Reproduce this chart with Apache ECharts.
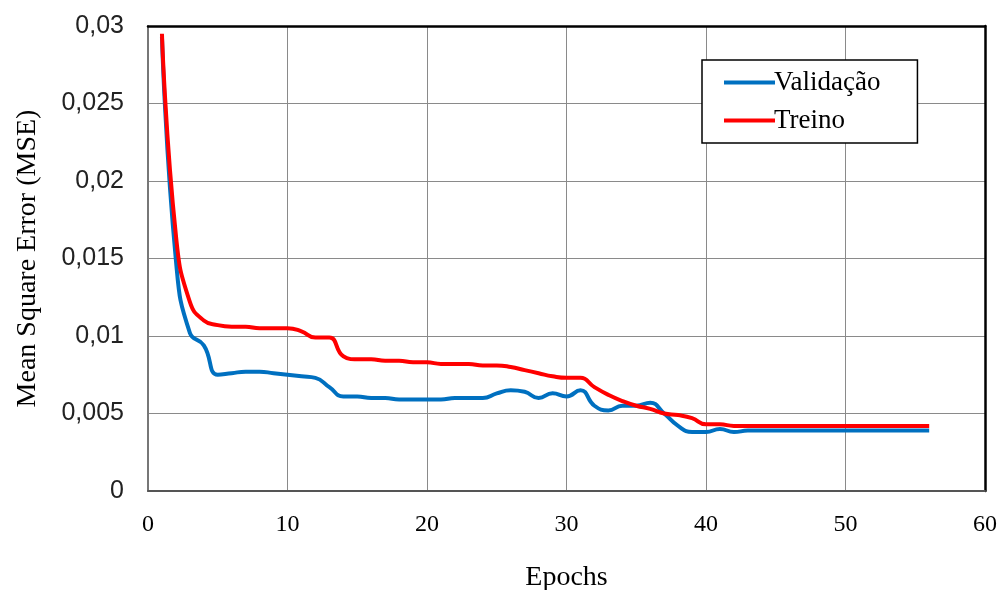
<!DOCTYPE html>
<html>
<head>
<meta charset="utf-8">
<script src="https://cdn.jsdelivr.net/npm/echarts@6/dist/echarts.min.js"></script>
<style>html,body{margin:0;padding:0;background:#fff}#c{width:1003px;height:590px}</style>
</head>
<body>
<div id="c"></div>
<script>
const epochs = [1,2,3,4,5,6,7,8,9,10,11,12,13,14,15,16,17,18,19,20,21,22,23,24,25,26,27,28,29,30,31,32,33,34,35,36,37,38,39,40,41,42,43,44,45,46,47,48,49,50,51,52,53,54,55,56];
const validacao = [0.0293,0.0149,0.0102,0.0094,0.0075,0.0076,0.0077,0.0077,0.0076,0.0075,0.0074,0.0073,0.0067,0.0061,0.0061,0.0060,0.0060,0.0059,0.0059,0.0059,0.0059,0.0060,0.0060,0.0060,0.0063,0.0065,0.0064,0.0060,0.0063,0.0061,0.0065,0.0055,0.0052,0.0055,0.0055,0.0057,0.0050,0.0042,0.0038,0.0038,0.0040,0.0038,0.0039,0.0039,0.0039,0.0039,0.0039,0.0039,0.0039,0.0039,0.0039,0.0039,0.0039,0.0039,0.0039,0.0039];
const treino = [0.0295,0.0165,0.0122,0.0110,0.0107,0.0106,0.0106,0.0105,0.0105,0.0105,0.0103,0.0099,0.0099,0.0087,0.0085,0.0085,0.0084,0.0084,0.0083,0.0083,0.0082,0.0082,0.0082,0.0081,0.0081,0.0080,0.0078,0.0076,0.0074,0.0073,0.0073,0.0067,0.0062,0.0058,0.0055,0.0053,0.0050,0.0049,0.0047,0.0043,0.0043,0.0042,0.0042,0.0042,0.0042,0.0042,0.0042,0.0042,0.0042,0.0042,0.0042,0.0042,0.0042,0.0042,0.0042,0.0042];
const xTicks = [0,10,20,30,40,50,60];
const yTicks = [0,0.005,0.01,0.015,0.02,0.025,0.03];

const serif = '"Liberation Serif", "Times New Roman", serif';
const sans = '"Liberation Sans", Arial, sans-serif';
const fmtY = v => v === 0 ? '0' : v.toFixed(3).replace(/0+$/,'').replace('.', ',');

const chart = echarts.init(document.getElementById('c'), null, {renderer: 'canvas'});
chart.setOption({
  animation: false,
  backgroundColor: '#fff',
  grid: {left: 148, right: 18, top: 26, bottom: 99, containLabel: false, outerBoundsMode: 'none'},
  legend: {
    orient: 'vertical', left: 702, top: 60,
    padding: [9, 37, 9, 22], itemGap: 11,
    backgroundColor: '#fff', borderColor: '#000', borderWidth: 1.5,
    itemWidth: 51, itemHeight: 4, icon: 'rect',
    textStyle: {fontFamily: serif, fontSize: 27, color: '#000', padding: [0,0,0,-6]},
    data: ['Validação', 'Treino']
  },
  xAxis: [{
    type: 'value', min: xTicks[0], max: xTicks[xTicks.length-1], interval: 10,
    name: 'Epochs', nameLocation: 'middle', nameGap: 73,
    nameTextStyle: {fontFamily: serif, fontSize: 28, color: '#000'},
    axisLine: {show: true, lineStyle: {color: '#555', width: 2}},
    axisTick: {show: false},
    axisLabel: {fontFamily: serif, fontSize: 24, color: '#000', margin: 22},
    splitLine: {show: true, lineStyle: {color: '#8a8a8a', width: 1}}
  }, {
    type: 'value', position: 'top', min: 0, max: 60,
    axisLine: {show: true, onZero: false, lineStyle: {color: '#000', width: 2.5}},
    axisTick: {show: false}, axisLabel: {show: false}, splitLine: {show: false}
  }],
  yAxis: [{
    type: 'value', min: yTicks[0], max: yTicks[yTicks.length-1], interval: 0.005,
    name: 'Mean Square Error (MSE)', nameLocation: 'middle', nameGap: 106,
    nameTextStyle: {fontFamily: serif, fontSize: 28, color: '#000'},
    axisLine: {show: true, lineStyle: {color: '#777', width: 2}},
    axisTick: {show: false},
    axisLabel: {fontFamily: sans, fontSize: 25, color: '#222', margin: 24, formatter: fmtY},
    splitLine: {show: true, lineStyle: {color: '#8a8a8a', width: 1}}
  }, {
    type: 'value', position: 'right', min: 0, max: 0.03,
    axisLine: {show: true, onZero: false, lineStyle: {color: '#000', width: 2.5}},
    axisTick: {show: false}, axisLabel: {show: false}, splitLine: {show: false}
  }],
  series: [{
    name: 'Validação', type: 'line', smooth: 0.5, showSymbol: false,
    data: epochs.map((e, i) => [e, validacao[i]]),
    lineStyle: {color: '#0070C0', width: 4}, itemStyle: {color: '#0070C0'}
  }, {
    name: 'Treino', type: 'line', smooth: 0.5, showSymbol: false,
    data: epochs.map((e, i) => [e, treino[i]]),
    lineStyle: {color: '#FF0000', width: 4}, itemStyle: {color: '#FF0000'}
  }]
});
</script>
</body>
</html>
